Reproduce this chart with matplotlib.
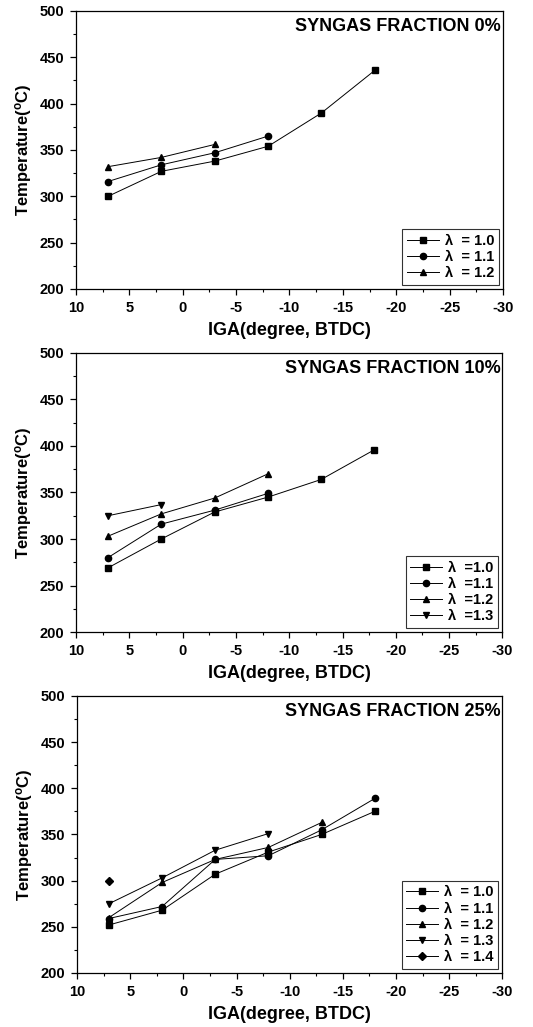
import matplotlib
matplotlib.use("Agg")
import matplotlib.pyplot as plt
import numpy as np
from matplotlib.ticker import MultipleLocator

plt.rcParams['font.family'] = ['Liberation Sans', 'DejaVu Sans']
plt.rcParams['font.weight'] = 'bold'
plt.rcParams['axes.unicode_minus'] = False

# ignition angle (degree BTDC), shared by all panels
iga = [7, 2, -3, -8, -13, -18]

# syngas fraction 0 %
f0_l10 = [300, 327, 338, 354, 390, 436]
f0_l11 = [316, 334, 347, 365]
f0_l12 = [332, 342, 356]

# syngas fraction 10 %
f10_l10 = [269, 300, 329, 345, 364, 396]
f10_l11 = [280, 316, 331, 349]
f10_l12 = [303, 327, 344, 370]
f10_l13 = [325, 337]

# syngas fraction 25 %
f25_l10 = [252, 268, 307, 331, 350, 375]
f25_l11 = [259, 272, 323, 327, 355, 389]
f25_l12 = [260, 298, 323, 336, 363]
f25_l13 = [275, 303, 333, 351]
f25_l14 = [300]

markers = ['s', 'o', '^', 'v', 'D']

panels = [
    ("SYNGAS FRACTION 0%", [f0_l10, f0_l11, f0_l12],
     ["λ  = 1.0", "λ  = 1.1", "λ  = 1.2"]),
    ("SYNGAS FRACTION 10%", [f10_l10, f10_l11, f10_l12, f10_l13],
     ["λ  =1.0", "λ  =1.1", "λ  =1.2", "λ  =1.3"]),
    ("SYNGAS FRACTION 25%", [f25_l10, f25_l11, f25_l12, f25_l13, f25_l14],
     ["λ  = 1.0", "λ  = 1.1", "λ  = 1.2", "λ  = 1.3", "λ  = 1.4"]),
]

# axes boxes [left, bottom, width, height]
boxes = [
    [0.1426, 0.7186, 0.801, 0.2707],
    [0.1426, 0.3846, 0.800, 0.2717],
    [0.1445, 0.0526, 0.798, 0.2697],
]

fig = plt.figure(figsize=(5.33, 10.27), dpi=100)

for (title, series, labels), box in zip(panels, boxes):
    ax = fig.add_axes(box)
    for i, (ys, lab) in enumerate(zip(series, labels)):
        ms = 4.5 if markers[i] != 'D' else 4
        ax.plot(iga[:len(ys)], ys, color='black', lw=0.7,
                marker=markers[i], ms=ms, label=lab)

    ax.set_xlim(10, -30)
    ax.set_ylim(200, 500)
    ax.xaxis.set_major_locator(MultipleLocator(5))
    ax.xaxis.set_minor_locator(MultipleLocator(2.5))
    ax.yaxis.set_major_locator(MultipleLocator(50))
    ax.yaxis.set_minor_locator(MultipleLocator(25))
    ax.tick_params(which='major', direction='out', length=4, width=0.9,
                   labelsize=10.5, pad=4.5)
    ax.tick_params(which='minor', direction='out', length=2, width=0.8)
    for lbl in ax.get_xticklabels() + ax.get_yticklabels():
        lbl.set_fontweight('bold')
    for sp in ax.spines.values():
        sp.set_linewidth(0.9)

    ax.set_xlabel("IGA(degree, BTDC)", fontsize=13, fontweight='bold', labelpad=5)
    ax.set_ylabel("Temperature($\\mathregular{^{o}}$C)", fontsize=12,
                  fontweight='bold', labelpad=4)
    ax.text(0.995, 0.975, title, transform=ax.transAxes, ha='right', va='top',
            fontsize=13, fontweight='bold')

    leg = ax.legend(loc='lower right', fontsize=10.5, frameon=True,
                    fancybox=False, edgecolor='black', borderaxespad=0.3,
                    handlelength=2.2, handletextpad=0.4, labelspacing=0.15,
                    borderpad=0.3)
    leg.get_frame().set_linewidth(0.8)
    for t in leg.get_texts():
        t.set_fontweight('bold')

fig.savefig("out.png", dpi=100)
